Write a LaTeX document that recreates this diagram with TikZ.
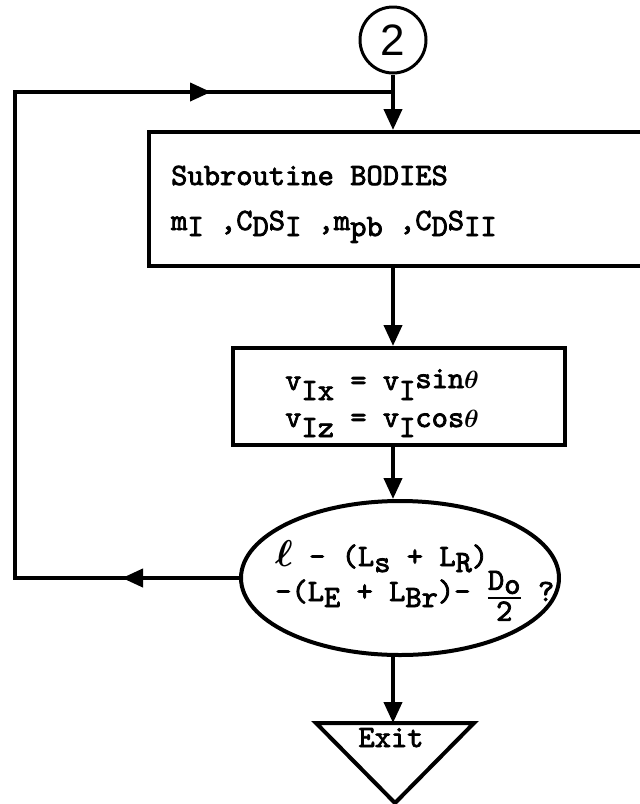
\documentclass[tikz,border=0pt]{standalone}
\usepackage{fontspec}
\usepackage{graphicx}
\usetikzlibrary{arrows.meta,shapes.geometric,decorations.markings}
\newfontfamily\lsans{Liberation Sans}
\newfontfamily\tw{lmmono10-regular.otf}[FakeBold=2.5]
\newcommand\sbx[2][6pt]{\raisebox{-#1}{#2}}
\AtBeginDocument{\boldmath}
\tikzset{
  ln/.style={line width=4pt},
  arr/.style={ln,-{Triangle[length=21pt,width=18pt]}},
  txt/.style={font=\fontsize{31}{31}\selectfont\tw, inner sep=0pt, anchor=base west},
  loopmarks/.style={postaction={decorate},
    decoration={markings,
      mark=at position 117pt with {\arrow{Triangle[length=21pt,width=18pt]}},
      mark=at position 906pt with {\arrow{Triangle[length=21pt,width=18pt]}}}}
}
\begin{document}
\begin{tikzpicture}[x=1pt,y=-1pt]
\clip (0,0) rectangle (640,804);
\fill[white] (0,0) rectangle (640,804);
% connector circle
\node[draw, circle, minimum size=66pt, inner sep=0pt, line width=3pt,
      font=\fontsize{44}{44}\selectfont\lsans] (c2) at (393,40) {2};
% box 1 (runs off the right edge)
\node[draw, ln, rectangle, anchor=north west, minimum width=520pt, minimum height=134pt, inner sep=0pt] (b1) at (147,130) {};
\node[txt] (b1t1) at (171,185) {Subroutine BODIES};
\node[txt] (b1t2) at (171,230) {m\sbx{I} ,C\sbx{D}S\sbx{I} ,m\sbx{pb} ,C\sbx{D}S\sbx{II}};
% box 2
\node[draw, ln, rectangle, minimum width=332pt, minimum height=97pt, inner sep=0pt] (b2) at (399,396.5) {};
\node[txt] (b2t1) at (285,390) {v\sbx[10pt]{Ix} = v\sbx[10pt]{I}\raisebox{2pt}{sin$\theta$}};
\node[txt] (b2t2) at (285,427) {v\sbx[10pt]{Iz} = v\sbx[10pt]{I}cos$\theta$};
% decision ellipse
\node[draw, ln, ellipse, minimum width=318pt, minimum height=154pt, inner sep=0pt] (ell) at (400,578) {};
\node[txt] (et1) at (275,566) {\scalebox{1.5}{$\ell$} - (L\sbx{s} + L\sbx{R})};
\node[txt] (et2) at (275,601) {-(L\sbx{E} + L\sbx{Br})- \raisebox{-3pt}{${\hbox{D\sbx[4pt]{o}}\above 2.5pt \hbox{2}}$}\ ?};
% exit triangle
\coordinate (tri) at (395,723);
\coordinate (triL) at (316,723);
\coordinate (triR) at (474,723);
\coordinate (triB) at (395,803);
\draw[ln, line join=miter] (triL) -- (triR) -- (triB) -- cycle;
\node[font=\fontsize{31}{31}\selectfont\tw, inner sep=0pt, anchor=base] (ex) at (391,747) {Exit};
% connectors
\coordinate (lft) at (15,92);
\draw[arr] (c2.south) -- (c2 |- b1.north);
\draw[arr] (c2 |- b1.south) -- (c2 |- b2.north);
\draw[arr] (c2 |- b2.south) -- (c2 |- ell.north);
\draw[arr] (c2 |- ell.south) -- (c2 |- tri);
\draw[ln, line join=miter, loopmarks] (ell.west) -- (ell.west -| lft) -- (lft) -- (c2 |- lft);
\end{tikzpicture}
\end{document}
